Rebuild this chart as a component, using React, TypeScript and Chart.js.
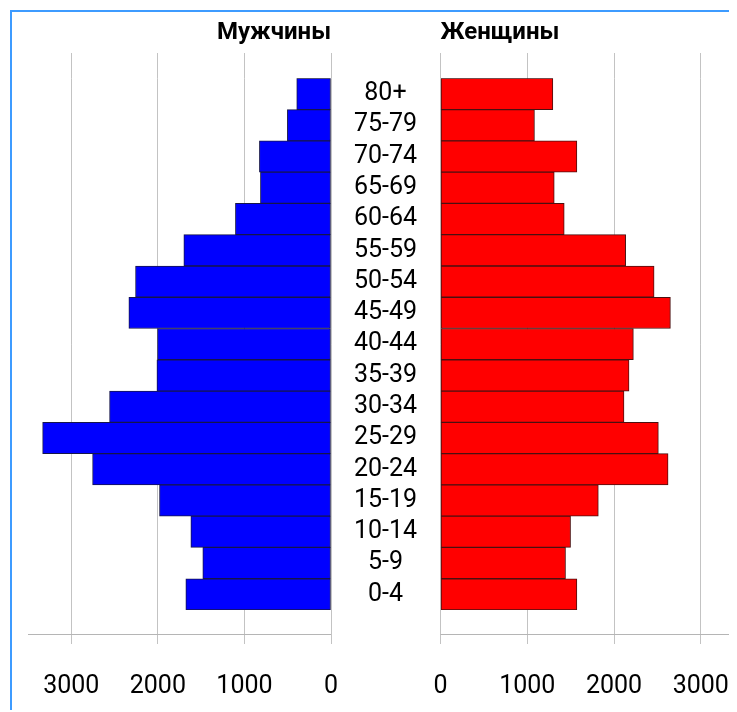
import React, { useEffect, useRef } from 'react';
import { Chart, registerables } from 'chart.js';

Chart.register(...registerables);

const ageGroups = ['80+', '75-79', '70-74', '65-69', '60-64', '55-59', '50-54', '45-49', '40-44', '35-39', '30-34', '25-29', '20-24', '15-19', '10-14', '5-9', '0-4'];
const menValues = [396, 504, 827, 815, 1104, 1700, 2258, 2335, 2004, 2011, 2558, 3331, 2754, 1981, 1619, 1481, 1677];
const womenValues = [1295, 1083, 1572, 1311, 1426, 2134, 2462, 2650, 2223, 2173, 2115, 2511, 2623, 1819, 1499, 1441, 1572];
const xTickValues = [0, 1000, 2000, 3000];
const menTitle = 'Мужчины';
const womenTitle = 'Женщины';

const FONT = "Roboto, 'Noto Sans', sans-serif";
const X_MAX = 3500;
const GRID = '#c3c3c3';

// extends the value-axis grid lines above the bars and draws the axis line below them
const frameLines = {
  id: 'frameLines',
  beforeDatasetsDraw(chart: any, _args: any, opts: any) {
    const { ctx, chartArea, scales } = chart;
    const x = scales.x;
    ctx.save();
    ctx.strokeStyle = opts.color;
    ctx.lineWidth = 1;
    x.ticks.forEach((t: any) => {
      const px = Math.floor(x.getPixelForValue(t.value)) + 0.5;
      ctx.beginPath();
      ctx.moveTo(px, chartArea.top - opts.extendTop);
      ctx.lineTo(px, chartArea.top);
      ctx.stroke();
    });
    const yy = Math.floor(chartArea.bottom + opts.axisOffset) + 0.5;
    ctx.strokeStyle = opts.axisColor;
    ctx.beginPath();
    ctx.moveTo(chartArea.left, yy);
    ctx.lineTo(chartArea.right, yy);
    ctx.stroke();
    ctx.restore();
  },
};

function xScale(reverse: boolean) {
  return {
    type: 'linear',
    reverse,
    min: 0,
    max: X_MAX,
    afterBuildTicks: (s: any) => {
      s.ticks = xTickValues.map((v) => ({ value: v }));
    },
    grid: { color: GRID, lineWidth: 1, tickLength: 34, drawTicks: true },
    border: { display: false },
    ticks: {
      padding: 28,
      color: '#000',
      font: { family: FONT, size: 25 },
      maxRotation: 0,
      autoSkip: false,
      callback: (v: any) => String(v),
    },
  };
}

function titleOpts(text: string, align: string) {
  return {
    display: true,
    text,
    align,
    fullSize: false,
    color: '#000',
    font: { family: FONT, size: 24, weight: 'bold' },
    padding: { top: 6.6, bottom: 30.9 },
  };
}

const framePluginOpts = { color: GRID, axisColor: '#b5b5b5', extendTop: 25.3, axisOffset: 24 };

export default function App() {
  const leftRef = useRef<HTMLCanvasElement>(null);
  const rightRef = useRef<HTMLCanvasElement>(null);

  useEffect(() => {
    document.body.style.overflow = 'hidden';
    document.documentElement.style.overflow = 'hidden';

    const left = new Chart(leftRef.current as HTMLCanvasElement, {
      type: 'bar',
      data: {
        labels: ageGroups,
        datasets: [
          {
            label: menTitle,
            data: menValues,
            backgroundColor: '#0000ff',
            borderColor: '#16164a',
            borderWidth: 1,
            borderSkipped: false,
            barPercentage: 1,
            categoryPercentage: 1,
          },
        ],
      },
      options: {
        indexAxis: 'y',
        responsive: false,
        animation: false,
        layout: { padding: { left: 16, right: 10, top: 0, bottom: 0 } },
        plugins: {
          legend: { display: false },
          tooltip: { enabled: false },
          title: titleOpts(menTitle, 'end'),
          frameLines: framePluginOpts,
        },
        scales: {
          x: xScale(true),
          y: { type: 'category', display: false, offset: true },
        },
      } as any,
      plugins: [frameLines],
    } as any);

    const right = new Chart(rightRef.current as HTMLCanvasElement, {
      type: 'bar',
      data: {
        labels: ageGroups,
        datasets: [
          {
            label: womenTitle,
            data: womenValues,
            backgroundColor: '#ff0000',
            borderColor: '#4a1010',
            borderWidth: 1,
            borderSkipped: false,
            barPercentage: 1,
            categoryPercentage: 1,
          },
        ],
      },
      options: {
        indexAxis: 'y',
        responsive: false,
        animation: false,
        layout: { padding: { left: 0, right: 0, top: 0, bottom: 0 } },
        plugins: {
          legend: { display: false },
          tooltip: { enabled: false },
          title: titleOpts(womenTitle, 'start'),
          frameLines: framePluginOpts,
        },
        scales: {
          x: xScale(false),
          y: {
            type: 'category',
            position: 'left',
            offset: true,
            afterFit: (s: any) => {
              s.width = 109.5;
            },
            grid: { display: false, drawTicks: false },
            border: { display: false },
            ticks: {
              crossAlign: 'center',
              padding: 23.5,
              color: '#000',
              autoSkip: false,
              font: { family: FONT, size: 25 },
            },
          },
        },
      } as any,
      plugins: [frameLines],
    } as any);

    return () => {
      left.destroy();
      right.destroy();
    };
  }, []);

  return (
    <div
      style={{
        position: 'relative',
        left: 2,
        top: 2,
        width: 725,
        height: 700,
        borderLeft: '2px solid #3d9bff',
        borderTop: '2px solid #3d9bff',
        overflow: 'hidden',
        background: '#fff',
      }}
    >
      <canvas
        ref={leftRef}
        width={329}
        height={718}
        style={{ position: 'absolute', left: 0, top: 0, width: 329, height: 718 }}
      />
      <canvas
        ref={rightRef}
        width={428}
        height={718}
        style={{ position: 'absolute', left: 319, top: 0, width: 428, height: 718 }}
      />
    </div>
  );
}
